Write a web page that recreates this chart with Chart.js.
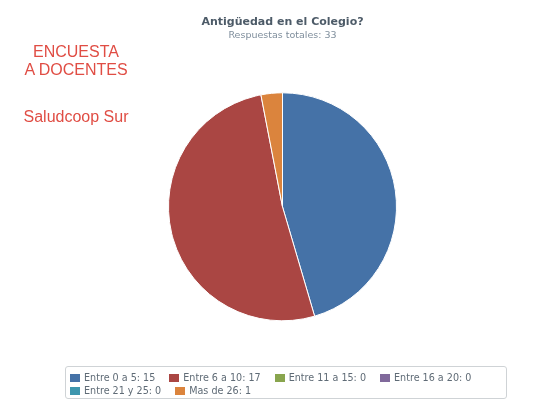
<!DOCTYPE html>
<html>
<head>
<meta charset="utf-8">
<title>Antigüedad en el Colegio?</title>
<script src="https://cdn.jsdelivr.net/npm/chart.js@4/dist/chart.umd.min.js"></script>
<style>
  body { margin: 0; background: #fff; }
  #wrap { position: relative; width: 555px; height: 402px; }
  .side {
    position: absolute; left: 0; width: 152px; text-align: center;
    font-family: "Liberation Sans", Arial, sans-serif; font-size: 16px;
    line-height: 18px; color: #e04d44;
  }
  #legend {
    position: absolute; left: 65px; top: 366px; width: 442px; height: 33px;
    box-sizing: border-box; border: 1px solid #cfd3d6; border-radius: 3px;
    padding: 4px 0 0 4px; font-family: "DejaVu Sans", sans-serif;
    font-size: 9.6px; line-height: 13px; color: #5f6b76;
  }
  #legend span.item { display: inline-block; margin-right: 14px; white-space: nowrap; }
  #legend span.box {
    display: inline-block; width: 10px; height: 8px; margin-right: 4px;
    vertical-align: -1px;
  }
</style>
</head>
<body>
<div id="wrap">
  <canvas id="my-chart" width="555" height="402"></canvas>
  <div class="side" style="top:43px">ENCUESTA</div>
  <div class="side" style="top:61px">A DOCENTES</div>
  <div class="side" style="top:108px">Saludcoop Sur</div>
  <div id="legend"></div>
</div>
<script>
'use strict'

let rangeLabels = ['Entre 0 a 5', 'Entre 6 a 10', 'Entre 11 a 15', 'Entre 16 a 20', 'Entre 21 y 25', 'Mas de 26'];
let answerCounts = [15, 17, 0, 0, 0, 1];
let sliceColors = ['#4572A7', '#AA4643', '#89A54E', '#80699B', '#3D96AE', '#DB843D'];

let totalAnswers = answerCounts.reduce((a, b) => a + b, 0);

let chartContext = document.getElementById('my-chart').getContext('2d');
let legendContainer = document.getElementById('legend');

// legend lives in html so the items can flow inside a bordered box
let htmlLegend = {
  id: 'htmlLegend',
  afterUpdate(chart) {
    legendContainer.innerHTML = '';
    let items = chart.options.plugins.legend.labels.generateLabels(chart);
    for (let i = 0; i < items.length; i++) {
      let item = document.createElement('span');
      item.className = 'item';
      let box = document.createElement('span');
      box.className = 'box';
      box.style.background = items[i].fillStyle;
      item.appendChild(box);
      item.appendChild(document.createTextNode(items[i].text + ': ' + answerCounts[items[i].index]));
      legendContainer.appendChild(item);
    }
  }
};

let chartConfig = {
  type: 'pie',
  data: {
    labels: rangeLabels,
    datasets: [{
      data: answerCounts,
      backgroundColor: sliceColors,
      borderColor: '#ffffff',
      borderWidth: 1,
    }],
  },
  options: {
    responsive: false,
    animation: false,
    devicePixelRatio: 1,
    layout: {
      padding: { left: 168, right: 158, top: 0, bottom: 34 },
    },
    plugins: {
      legend: { display: false },
      tooltip: { enabled: false },
      title: {
        display: true,
        text: 'Antigüedad en el Colegio?',
        color: '#4d5b68',
        font: { family: 'DejaVu Sans', size: 11, weight: 'bold' },
        padding: { top: 16, bottom: 1 },
      },
      subtitle: {
        display: true,
        text: 'Respuestas totales: ' + totalAnswers,
        color: '#7f8e9c',
        font: { family: 'DejaVu Sans', size: 9.5 },
        padding: { top: 0, bottom: 4 },
      },
    },
  },
  plugins: [htmlLegend],
};

let myChart = new Chart(chartContext, chartConfig);
</script>
</body>
</html>
